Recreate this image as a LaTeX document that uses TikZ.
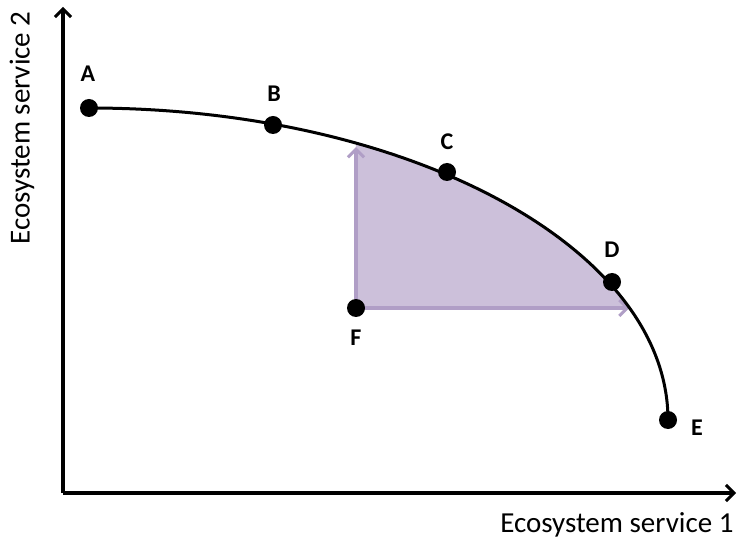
\documentclass[tikz,border=0pt]{standalone}
\usepackage{fontspec}
\setmainfont{Carlito}
\usetikzlibrary{arrows.meta}
\definecolor{regionfill}{RGB}{204,192,218}
\definecolor{arrowpurple}{RGB}{176,158,198}
\begin{document}
\begin{tikzpicture}[x=1pt,y=1pt,
  axis/.style={line width=3.4pt,-{Straight Barb[length=8pt,width=16pt,line width=3pt]}},
  gain/.style={line width=3.6pt,arrowpurple,-{Straight Barb[length=8pt,width=16pt,line width=3pt]}},
  dot/.style={circle,fill=black,inner sep=0pt,minimum size=18pt},
  lab/.style={font=\bfseries\fontsize{24}{26}\selectfont},
  axlab/.style={font=\fontsize{29}{32}\selectfont}]
\useasboundingbox (0,0) rectangle (738,541);
\coordinate (O) at (63,48);
\coordinate (Ytop) at (63,534);
\coordinate (Xend) at (736,48);
\coordinate (ctr) at (89,121);
\coordinate (Fp) at (356,233);
\coordinate (Ftop) at ([shift={(ctr)}]62.54:579 and 312);
\coordinate (Fright) at ([shift={(ctr)}]21.04:579 and 312);
% shaded region
\fill[regionfill] (Fp) -- (Ftop) arc[start angle=62.54,end angle=21.04,x radius=579,y radius=312] -- cycle;
% arrows from F
\draw[gain] (Fp) -- ([yshift=-4]Ftop);
\draw[gain] (Fp) -- (Fright);
% axes
\draw[axis] (O) -- (Ytop);
\draw[axis] (O) -- (Xend);
% frontier
\draw[line width=3pt] (89,433) arc[start angle=90,end angle=0,x radius=579,y radius=312];
% points
\node[dot] (A) at (89,433) {};
\node[dot] (B) at (273,416) {};
\node[dot] (C) at (447,369) {};
\node[dot] (D) at (612,259) {};
\node[dot] (E) at (668,121) {};
\node[dot] (F) at (356,233) {};
\node[lab] (lA) at (88,467) {A};
\node[lab] (lB) at (274,447) {B};
\node[lab] (lC) at (447,399) {C};
\node[lab] (lD) at (612,291) {D};
\node[lab] (lE) at (697,113) {E};
\node[lab] (lF) at (356,203) {F};
\node[axlab,anchor=east] (xl) at (737,16) {Ecosystem service 1};
\node[axlab,rotate=90] (yl) at (22,413) {Ecosystem service 2};
\end{tikzpicture}
\end{document}
